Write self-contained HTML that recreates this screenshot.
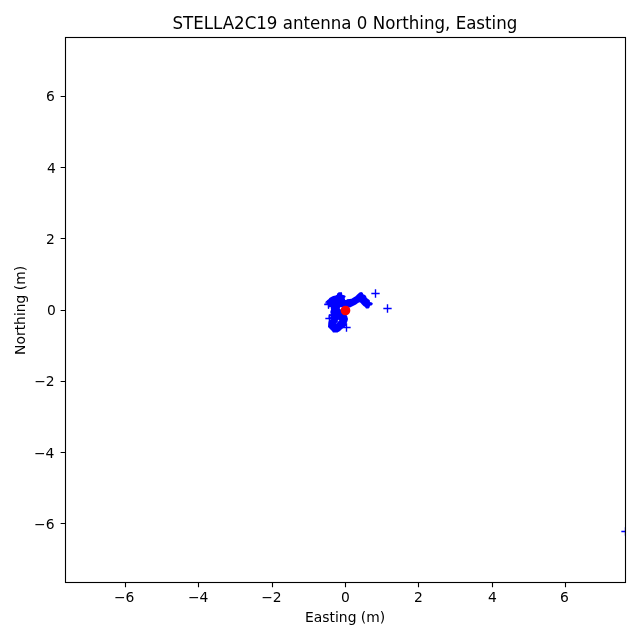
<!DOCTYPE html>
<html><head><meta charset="utf-8"><title>STELLA2C19 antenna 0 Northing, Easting</title><style>html,body{margin:0;padding:0;background:#fff;width:640px;height:640px;overflow:hidden}svg{display:block;will-change:transform}</style></head><body>
<svg width="640" height="640" viewBox="0 0 640 640">
<defs><clipPath id="ax"><rect x="64.78" y="37.33" width="560.22" height="544.39"/></clipPath></defs>
<rect x="0" y="0" width="640" height="640" fill="#ffffff"/>
<g clip-path="url(#ax)">
<path d="M324.4 303.75 L327.5 303.1 L325.3 302.7 L325.3 301.9 L327.2 300.3 L328.75 299 L329.4 298 L331.6 296.7 L333.1 296.1 L335.6 295.6 L336.9 294.7 L337.2 293.4 L338.75 292.2 L342 292.25 L342.25 294.75 L345 295.5 L345.75 296.75 L344.6 298.1 L345.2 300 L346.3 300 L347 299.3 L351.5 298.75 L353 297.75 L355.5 296.25 L357.5 294.25 L359.5 292.5 L361.25 292 L362.75 292.75 L363.25 294.25 L365 295 L366 296 L366.75 298 L368.5 299.25 L369.75 300.25 L370 302 L372 302.5 L372.9 303.75 L372 305.25 L370 305.75 L369.5 307.5 L368.5 308.5 L366 308.5 L365 307 L363.5 306 L362 304.5 L360.5 302.75 L359.5 302.25 L358 303 L356 304.5 L354 305.5 L352 306.5 L350 307.5 L347 307.4 L341.3 307.2 L340 307.3 L339.8 308.9 L341 309.6 L343 313 L347 315.5 L348 319 L347.5 321 L346.5 323.5 L346 326 L344 327.5 L342 329 L340 331 L337.5 332.5 L333 332.5 L332 331 L330 329 L328 327 L328.25 323 L329 320 L328.8 319.2 L328.5 317.8 L328.5 316.25 L328.75 315 L330.75 314 L330.25 312 L331 309.5 L330.6 306.9 L329.4 306.9 L329 308.4 L328 308.4 L327.8 305 L324.4 304.8 Z" fill="#0000ff"/>
<path d="M324.333 304.5H332.667M328.5 300.333V308.667M325.333 318.5H333.667M329.5 314.333V322.667M342.333 327.5H350.667M346.5 323.333V331.667M371.333 293.5H379.667M375.5 289.333V297.667M383.333 308.5H391.667M387.5 304.333V312.667M621.333 531.5H629.667M625.5 527.333V535.667" fill="none" stroke="#0000ff" stroke-width="1.3889"/>
<circle cx="345.5" cy="310.5" r="4.1667" fill="#ff0000" stroke="#ff0000" stroke-width="1.3889"/>
<path d="M338.2 321.2L336.4 323.7" stroke="#fff" stroke-width="0.6" stroke-opacity="0.45" stroke-linecap="round"/><circle cx="338.5" cy="320.6" r="0.75" fill="#fff" fill-opacity="0.8"/>
<circle cx="330.5" cy="316.6" r="0.6" fill="#fff" fill-opacity="0.45"/><circle cx="330.6" cy="319.5" r="0.5" fill="#fff" fill-opacity="0.35"/>
</g>
<path d="M125.5 582.5V587.361M198.5 582.5V587.361M272.5 582.5V587.361M345.5 582.5V587.361M418.5 582.5V587.361M492.5 582.5V587.361M565.5 582.5V587.361M65.5 523.5H60.639M65.5 452.5H60.639M65.5 381.5H60.639M65.5 310.5H60.639M65.5 238.5H60.639M65.5 167.5H60.639M65.5 96.5H60.639" fill="none" stroke="#000" stroke-width="1.1111"/>
<rect x="65.5" y="37.5" width="560" height="545" fill="none" stroke="#000" stroke-width="1.1111" stroke-linejoin="miter"/>
<g font-family="'DejaVu Sans', 'Liberation Sans', sans-serif" fill="#000">
<text x="124.156" y="601.998" font-size="13.8889" text-anchor="middle">−6</text>
<text x="198.234" y="601.998" font-size="13.8889" text-anchor="middle">−4</text>
<text x="271.436" y="601.998" font-size="13.8889" text-anchor="middle">−2</text>
<text x="345.389" y="601.998" font-size="13.8889" text-anchor="middle">0</text>
<text x="418.341" y="601.998" font-size="13.8889" text-anchor="middle">2</text>
<text x="492.294" y="601.998" font-size="13.8889" text-anchor="middle">4</text>
<text x="564.371" y="601.998" font-size="13.8889" text-anchor="middle">6</text>
<text x="54.556" y="528.570" font-size="13.8889" text-anchor="end">−6</text>
<text x="54.431" y="458.315" font-size="13.8889" text-anchor="end">−4</text>
<text x="54.681" y="386.060" font-size="13.8889" text-anchor="end">−2</text>
<text x="55.806" y="314.804" font-size="13.8889" text-anchor="end">0</text>
<text x="54.806" y="243.549" font-size="13.8889" text-anchor="end">2</text>
<text x="55.806" y="173.294" font-size="13.8889" text-anchor="end">4</text>
<text x="54.806" y="101.039" font-size="13.8889" text-anchor="end">6</text>
<text x="345.139" y="621.995" font-size="13.8889" text-anchor="middle">Easting (m)</text>
<text x="25.136" y="310.403" font-size="13.8889" text-anchor="middle" transform="rotate(-90 25.136 310.403)">Northing (m)</text>
<text transform="translate(344.889 29.000) scale(1 1.08)" font-size="16.6667" text-anchor="middle">STELLA2C19 antenna 0 Northing, Easting</text>
</g></svg>
</body></html>
